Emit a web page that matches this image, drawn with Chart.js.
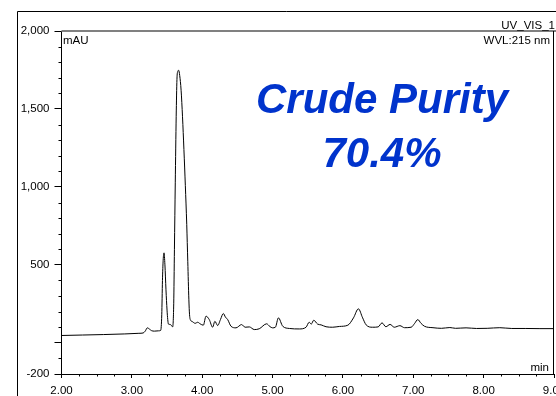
<!DOCTYPE html>
<html>
<head>
<meta charset="utf-8">
<script src="https://cdn.jsdelivr.net/npm/chart.js@4.4.1/dist/chart.umd.min.js"></script>
<style>
  html, body { margin: 0; padding: 0; background: #ffffff; }
  #wrap { position: relative; width: 556px; height: 396px; }
</style>
</head>
<body>
<div id="wrap"><canvas id="c" width="556" height="396"></canvas></div>
<script>
// Retention time (min)
const times = [
  2.00, 2.30, 2.60, 2.90, 3.10, 3.16, 3.19, 3.22, 3.25, 3.28, 3.32, 3.38, 3.41,
  3.425, 3.435, 3.445, 3.457, 3.470, 3.485, 3.500, 3.510, 3.520, 3.540, 3.560, 3.580,
  3.595, 3.605, 3.617, 3.630, 3.641, 3.652, 3.665, 3.680, 3.700, 3.720, 3.740, 3.760,
  3.780, 3.795, 3.810, 3.820, 3.835, 3.860, 3.900, 3.935, 3.970, 4.016, 4.054, 4.100,
  4.148, 4.180, 4.220, 4.260, 4.300, 4.330, 4.362, 4.410, 4.480, 4.560, 4.610, 4.670,
  4.740, 4.810, 4.916, 4.960, 5.000, 5.040, 5.083, 5.145, 5.240, 5.380, 5.476, 5.520,
  5.550, 5.585, 5.640, 5.690, 5.760, 5.855, 5.950, 6.070, 6.150, 6.220, 6.280, 6.330,
  6.420, 6.500, 6.556, 6.610, 6.670, 6.730, 6.810, 6.875, 6.970, 7.020, 7.064, 7.110,
  7.160, 7.280, 7.400, 7.520, 7.600, 7.750, 7.900, 8.050, 8.230, 8.400, 8.600, 8.800, 9.00
];
// Absorbance (mAU)
const mAU = [
  47, 50, 53, 57, 61, 63, 75, 96, 88, 78, 75, 77, 80,
  180, 400, 530, 577, 500, 340, 210, 150, 120, 118, 113, 102,
  250, 600, 1026, 1450, 1690, 1740, 1748, 1715, 1620, 1450, 1240, 1010,
  760, 520, 280, 180, 145, 136, 125, 132, 122, 113, 171, 149,
  100, 138, 111, 150, 188, 165, 149, 106, 96, 117, 100, 102,
  85, 90, 122, 105, 96, 100, 160, 106, 92, 89, 100, 132,
  120, 145, 120, 115, 103, 100, 105, 113, 160, 218, 160, 115,
  100, 102, 128, 103, 118, 100, 110, 97, 100, 125, 149, 125,
  106, 97, 93, 98, 93, 96, 92, 93, 97, 92, 92, 91, 91
];
const xTickValues = [2, 3, 4, 5, 6, 7, 8, 9];
const yTickValues = [-200, 0, 500, 1000, 1500, 2000];
const yUnlabeled = [0];
const xMinorStep = 0.25;
const yMinorStep = 100;
const xRange = [2, 9];
const yRange = [-200, 2000];

const FONT = '"Liberation Sans", Arial, sans-serif';

const decorPlugin = {
  id: 'decor',
  beforeDraw(chart) {
    const ctx = chart.ctx;
    ctx.save();
    ctx.strokeStyle = '#000';
    ctx.lineWidth = 1;
    ctx.beginPath();
    ctx.moveTo(17.5, 396); ctx.lineTo(17.5, 11.5); ctx.lineTo(556, 11.5);
    ctx.stroke();
    ctx.restore();
  },
  afterDraw(chart) {
    const ctx = chart.ctx;
    const a = chart.chartArea;
    const xs = chart.scales.x, ys = chart.scales.y;
    ctx.save();
    ctx.strokeStyle = '#808080';
    ctx.lineWidth = 2;
    const yt = ys.getPixelForValue(yRange[1]);
    ctx.beginPath(); ctx.moveTo(a.left, yt); ctx.lineTo(556, yt); ctx.stroke();
    ctx.strokeStyle = '#000';
    ctx.lineWidth = 1;
    ctx.beginPath(); ctx.moveTo(a.right - 0.5, yt); ctx.lineTo(a.right - 0.5, a.bottom); ctx.stroke();
    ctx.beginPath();
    for (let v = xRange[0]; v <= xRange[1] + 1e-9; v += xMinorStep) {
      if (Math.abs(v - Math.round(v)) < 1e-6) continue;
      const px = Math.round(xs.getPixelForValue(v)) + 0.5;
      ctx.moveTo(px, a.bottom); ctx.lineTo(px, a.bottom + 2.5);
    }
    for (let v = yRange[0]; v <= yRange[1] + 1e-9; v += yMinorStep) {
      if (yTickValues.includes(v)) continue;
      const py = Math.round(ys.getPixelForValue(v)) + 0.5;
      ctx.moveTo(a.left - 3, py); ctx.lineTo(a.left, py);
    }
    ctx.stroke();
    ctx.fillStyle = '#000';
    ctx.font = '11.5px ' + FONT;
    ctx.textBaseline = 'alphabetic';
    ctx.textAlign = 'right';
    ctx.fillText('UV_VIS_1', 555, 28.5);
    ctx.fillText('WVL:215 nm', 550, 44);
    ctx.fillText('min', 549, 371);
    ctx.textAlign = 'left';
    ctx.fillText('mAU', 63, 44);
    ctx.fillStyle = '#0033cc';
    ctx.font = 'italic bold 42px ' + FONT;
    ctx.textAlign = 'center';
    ctx.fillText('Crude Purity', 382, 113);
    ctx.fillText('70.4%', 382, 167);
    ctx.restore();
  }
};

new Chart(document.getElementById('c'), {
  type: 'line',
  data: {
    datasets: [{
      data: times.map((t, i) => ({ x: t, y: mAU[i] })),
      borderColor: '#000',
      borderWidth: 1,
      pointRadius: 0,
      fill: false,
      cubicInterpolationMode: 'monotone'
    }]
  },
  options: {
    responsive: false,
    animation: false,
    devicePixelRatio: 1,
    layout: { padding: { left: 0, right: 2, top: 31, bottom: 0 } },
    plugins: { legend: { display: false }, tooltip: { enabled: false } },
    scales: {
      x: {
        type: 'linear',
        min: xRange[0], max: xRange[1],
        afterBuildTicks: s => { s.ticks = xTickValues.map(v => ({ value: v })); },
        afterFit: s => { s.height = 22; s.paddingLeft = 0; s.paddingRight = 0; },
        ticks: {
          color: '#000', font: { family: FONT, size: 11.5 }, padding: 6,
          maxRotation: 0, autoSkip: false,
          callback: v => Number(v).toFixed(2)
        },
        grid: { display: true, drawOnChartArea: false, tickLength: 4, color: '#000', tickColor: '#000' },
        border: { display: true, color: '#000', width: 1 }
      },
      y: {
        type: 'linear',
        min: yRange[0], max: yRange[1],
        afterBuildTicks: s => { s.ticks = yTickValues.map(v => ({ value: v })); },
        afterFit: s => { s.width = 61.5; s.paddingTop = 0; s.paddingBottom = 0; },
        ticks: {
          color: '#000', font: { family: FONT, size: 11.5 }, padding: 5, autoSkip: false,
          callback: v => yUnlabeled.includes(v) ? '' : Number(v).toLocaleString('en-US')
        },
        grid: { display: true, drawOnChartArea: false, tickLength: 7, color: '#000', tickColor: '#000' },
        border: { display: true, color: '#000', width: 1 }
      }
    }
  },
  plugins: [decorPlugin]
});
</script>
</body>
</html>
